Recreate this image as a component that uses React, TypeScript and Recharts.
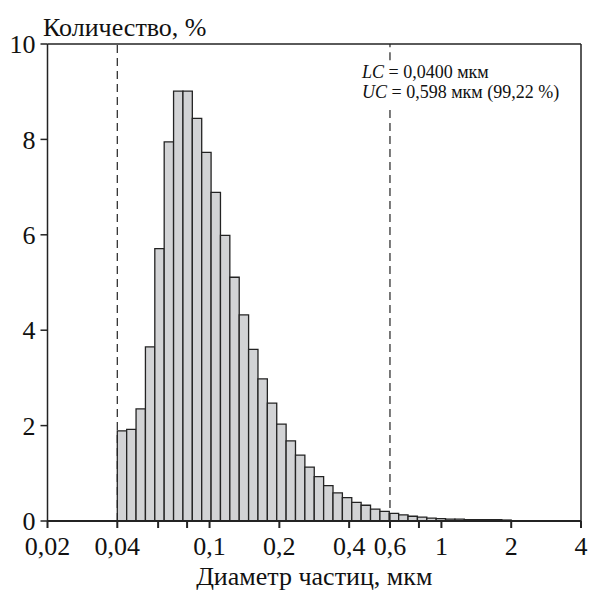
import { ComposedChart, Line, ReferenceArea, ReferenceLine, XAxis, YAxis } from 'recharts';

// 42 log-spaced bins from 0.04 to 2 um
const binStart = 0.04;
const binEnd = 2;
const values = [
  1.89, 1.92, 2.35, 3.65, 5.71, 7.95, 9.01, 9.01, 8.44, 7.73,
  6.89, 5.99, 5.11, 4.32, 3.6, 2.98, 2.47, 2.03, 1.68, 1.38,
  1.13, 0.93, 0.74, 0.59, 0.49, 0.39, 0.33, 0.25, 0.2, 0.16,
  0.13, 0.1, 0.08, 0.06, 0.05, 0.04, 0.04, 0.03, 0.03, 0.03,
  0.03, 0.02,
];
const xTicks = [0.02, 0.04, 0.06, 0.08, 0.1, 0.2, 0.4, 0.6, 0.8, 1, 2, 4];
const xLabeled = [0.02, 0.04, 0.1, 0.2, 0.4, 0.6, 1, 2, 4];
const yTicks = [0, 2, 4, 6, 8, 10];
const lowerCut = 0.04;
const upperCut = 0.6;
// the upper cut line is broken where the LC/UC note sits
const noteGap = [8.66, 9.66];

const FONT = 'Liberation Serif, Times New Roman, DejaVu Serif, serif';
const FILL = '#d2d3d5';
const INK = '#232323';

const step = Math.pow(binEnd / binStart, 1 / values.length);
const bins = values.map((v, i) => {
  const lo = binStart * Math.pow(step, i);
  const hi = lo * step;
  return { lo, hi, x: Math.sqrt(lo * hi), y: v };
});

const fmt = (v: number) => (xLabeled.includes(v) ? String(v).replace('.', ',') : '');

const txt = { fontFamily: FONT };

export default function App() {
  return (
    <div style={{ position: 'absolute', left: 0, top: 0, width: 589, height: 591, background: '#fff', fontFamily: FONT }}>
      <ComposedChart width={589} height={591} data={bins} margin={{ top: 44, right: 8, left: 7.5, bottom: 30 }} style={txt}>
        <XAxis
          dataKey="x"
          type="number"
          scale="log"
          domain={[0.02, 4]}
          allowDataOverflow
          ticks={xTicks}
          interval={0}
          tickFormatter={fmt}
          height={40}
          tickSize={7}
          tickMargin={9}
          stroke={INK}
          strokeWidth={2}
          tick={{ fontSize: 26, fill: '#111', fontFamily: FONT, style: txt }}
          label={{ value: 'Диаметр частиц, мкм', position: 'insideBottom', offset: -24, fontSize: 26, fill: '#111', fontFamily: FONT, style: txt }}
        />
        <YAxis
          type="number"
          domain={[0, 10]}
          ticks={yTicks}
          interval={0}
          width={40}
          tickSize={7}
          tickMargin={5}
          stroke={INK}
          strokeWidth={1.5}
          tick={{ fontSize: 26, fill: '#111', fontFamily: FONT, style: txt }}
        />
        {bins.map((b, i) => (
          <ReferenceArea
            key={i}
            x1={b.lo}
            x2={b.hi}
            y1={0}
            y2={b.y}
            fill={FILL}
            fillOpacity={1}
            stroke={INK}
            strokeWidth={1.3}
          />
        ))}
        <ReferenceLine y={10} stroke={INK} strokeWidth={1.5} />
        <ReferenceLine x={4} stroke={INK} strokeWidth={1.5} />
        <ReferenceLine x={lowerCut} stroke={INK} strokeWidth={1.2} strokeDasharray="8 5" />
        <ReferenceLine
          segment={[{ x: upperCut, y: 0 }, { x: upperCut, y: noteGap[0] }]}
          stroke={INK}
          strokeWidth={1.2}
          strokeDasharray="8 5"
        />
        <ReferenceLine
          segment={[{ x: upperCut, y: noteGap[1] }, { x: upperCut, y: 10 }]}
          stroke={INK}
          strokeWidth={1.2}
          strokeDasharray="8 5"
        />
        <Line dataKey="y" stroke="none" dot={false} activeDot={false} isAnimationActive={false} />
        <text x={43} y={36} fontSize={26} fill="#111" style={txt}>Количество, %</text>
        <text x={362} y={78} fontSize={18} fill="#111" style={txt}>
          <tspan fontStyle="italic">LC</tspan> = 0,0400 мкм
        </text>
        <text x={362} y={98} fontSize={18} fill="#111" style={txt}>
          <tspan fontStyle="italic">UC</tspan> = 0,598 мкм (99,22 %)
        </text>
      </ComposedChart>
    </div>
  );
}
